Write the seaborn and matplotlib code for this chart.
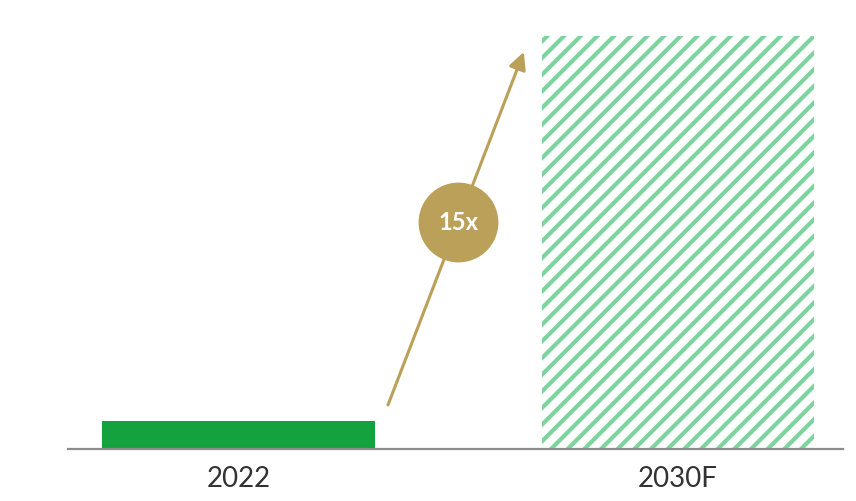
import matplotlib
matplotlib.use('Agg')
import matplotlib.pyplot as plt
import seaborn as sns
import pandas as pd

years = ['2022', '2030F']
values = [1, 15]
growth_label = '15x'

bar_green = '#13A23E'
hatch_green = '#7ED49E'
gold = '#BBA05A'

sns.set_style('white')
plt.rcParams['font.family'] = ['Lato', 'DejaVu Sans']
plt.rcParams['hatch.linewidth'] = 3.0

df = pd.DataFrame({'year': years, 'value': values})

fig = plt.figure(figsize=(8.56, 5.01), dpi=100)
ax = fig.add_axes([0.0794, 0.1038, 0.9054, 0.8244])

sns.barplot(data=df, x='year', y='value', hue='year', saturation=1,
            palette=[bar_green, 'white'], width=0.62, legend=False, ax=ax)

# second bar: forecast, hatched
fc = ax.patches[1]
fc.set_facecolor('white')
fc.set_edgecolor(hatch_green)
fc.set_hatch('//')
fc.set_linewidth(0)
ax.patches[0].set_linewidth(0)

ax.set_xlim(-0.388, 1.375)
ax.set_ylim(0, 15)

# growth arrow
ax.annotate('', xy=(0.649, 14.42), xytext=(0.340, 1.60),
            arrowprops=dict(arrowstyle='-|>', color=gold, lw=2.2,
                            mutation_scale=26, shrinkA=0, shrinkB=0))
ax.scatter([0.4994], [8.24], s=3300, color=gold, zorder=5, linewidths=0)
ax.text(0.4994, 8.24, growth_label, color='white', fontsize=17,
        fontweight='bold', ha='center', va='center', zorder=6)

for s in ['top', 'right', 'left']:
    ax.spines[s].set_visible(False)
ax.spines['bottom'].set_color('#8C8C8C')
ax.spines['bottom'].set_linewidth(1.6)
ax.set_yticks([])
ax.set_xlabel('')
ax.set_ylabel('')
ax.tick_params(axis='x', length=0, labelsize=20, labelcolor='#333333', pad=12)

fig.savefig('out.png', dpi=100)
